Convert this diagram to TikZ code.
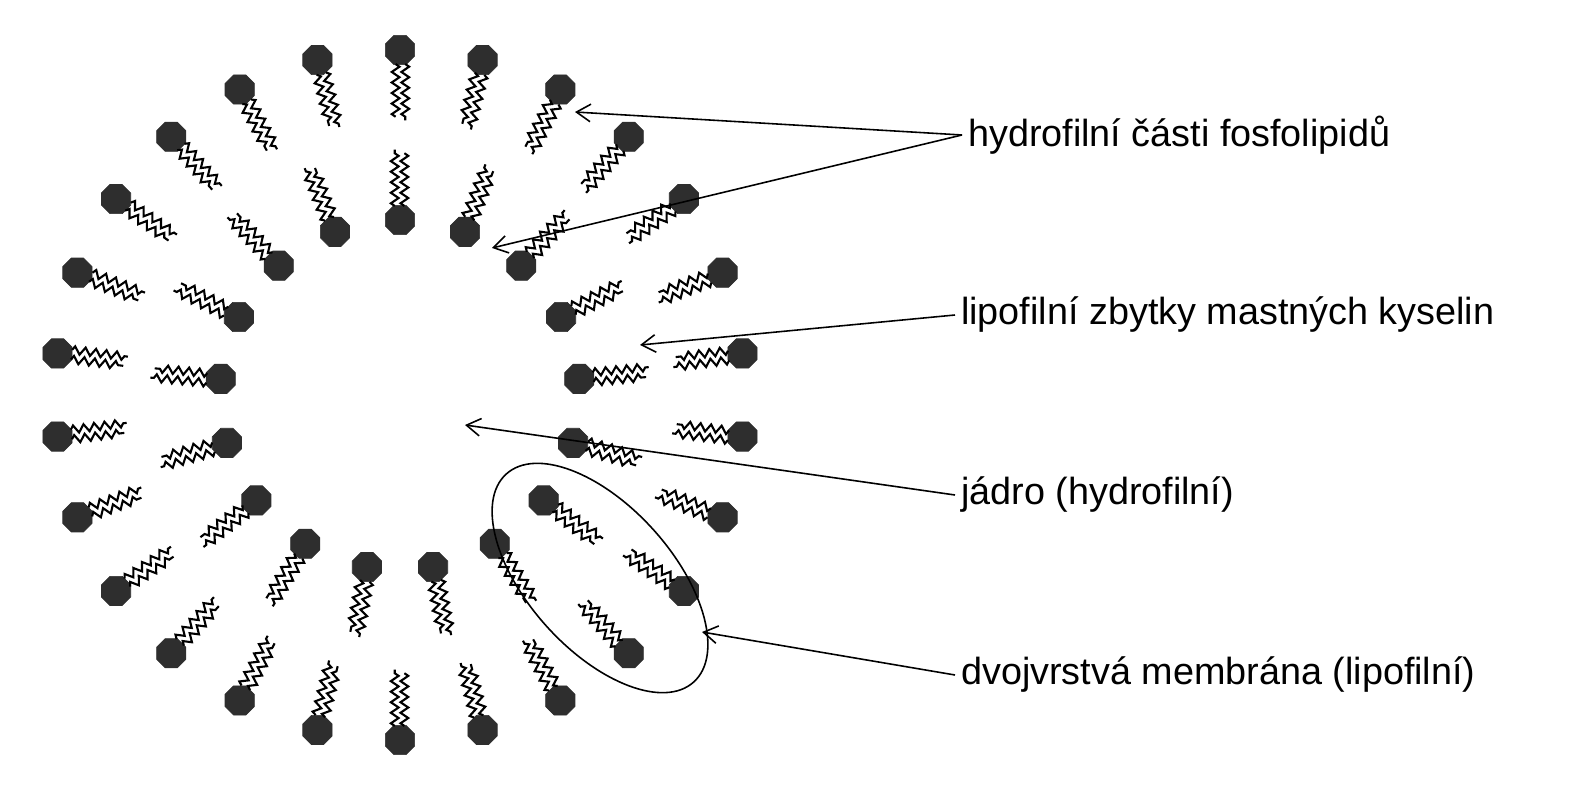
\documentclass[tikz,border=0pt]{standalone}
\usepackage{fontspec}
\setmainfont{Liberation Sans}
\usetikzlibrary{shapes.geometric}
\usetikzlibrary{decorations.pathmorphing}
\usetikzlibrary{arrows.meta}
\usetikzlibrary{calc}

\tikzset{
  head/.style={regular polygon, regular polygon sides=8, fill=black!82, draw=black!82,
    minimum size=18pt, inner sep=0pt},
  tail/.style={line width=1.2pt, decorate,
    decoration={zigzag, segment length=6pt, amplitude=2.2pt}},
  lbl/.style={anchor=west, font=\fontsize{21.5}{25}\selectfont},
  pointer/.style={-{Straight Barb[length=8pt,width=10pt]}, line width=0.9pt}
}

\begin{document}
\begin{tikzpicture}[x={(0.02cm,0)}, y={(0,-0.02cm)}]
    \useasboundingbox (0,0) rectangle (1583,800);
    \coordinate (c) at (400,395);

    % draw outer layer
    \foreach \i in {1,...,26} {
      \pgfmathsetmacro{\a}{90+(\i-1)*360/26}
      \node[head] (o\i) at ($(c)+({345*cos(\a)},{-345*sin(\a)})$) {};
      \begin{scope}[shift={(o\i)}, rotate=\a+180]
        \draw[tail] (8pt,3pt) -- (40pt,3pt);
        \draw[tail] (8pt,-2.5pt) -- (38pt,-2.5pt);
      \end{scope}
    }

    % draw inner layer
    \foreach \i in {1,...,17} {
      \pgfmathsetmacro{\a}{90+(\i-1)*360/17}
      \node[head] (n\i) at ($(c)+({180*cos(\a)},{-175*sin(\a)})$) {};
      \begin{scope}[shift={(n\i)}, rotate=\a]
        \draw[tail] (8pt,3pt) -- (40pt,3pt);
        \draw[tail] (8pt,-2.5pt) -- (38pt,-2.5pt);
      \end{scope}
    }

    % membrane ellipse
    \draw[line width=0.9pt, rotate around={-48:(600,578)}] (600,578) ellipse [x radius=140, y radius=72];

    % draw labels
    \node[lbl] (hyd) at (962,135) {hydrofilní části fosfolipidů};
    \node[lbl] (lip) at (955,315) {lipofilní zbytky mastných kyselin};
    \node[lbl] (jad) at (955,495) {jádro (hydrofilní)};
    \node[lbl] (dvo) at (955,675) {dvojvrstvá membrána (lipofilní)};

    % draw arrows
    \coordinate (t1) at (575,112);
    \coordinate (t2) at (492,248);
    \coordinate (t3) at (640,345);
    \coordinate (t4) at (465,425);
    \coordinate (t5) at (702,632);
    \draw[pointer] (hyd.west) -- (t1);
    \draw[pointer] (hyd.west) -- (t2);
    \draw[pointer] (lip.west) -- (t3);
    \draw[pointer] (jad.west) -- (t4);
    \draw[pointer] (dvo.west) -- (t5);
\end{tikzpicture}
\end{document}
